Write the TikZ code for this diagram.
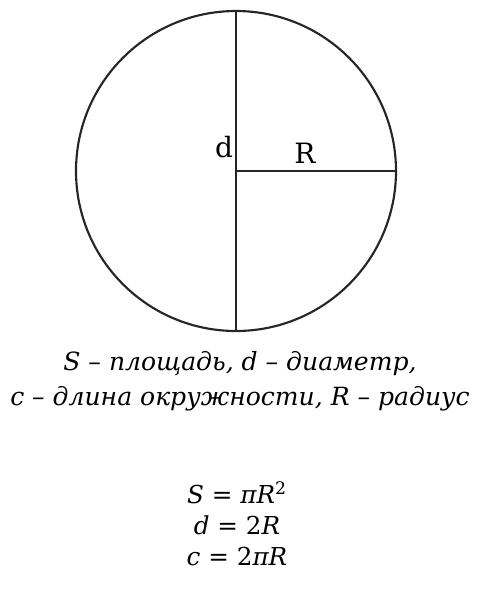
\documentclass[tikz,border=0pt]{standalone}
\usepackage{fontspec}
\setmainfont{DejaVu Serif}
\usetikzlibrary{positioning}

\begin{document}
\begin{tikzpicture}[
    x=0.75pt, y=-0.75pt,
    line width=1.6pt,
    ring/.style={
        draw=black!85,
        circle,
        inner sep=0pt,
        minimum size=240pt
    },
    seg/.style={draw=black!85, line width=1.4pt},
    lbl/.style={
        font=\fontsize{21}{21}\selectfont,
        inner sep=0pt
    },
    txt/.style={
        align=center,
        inner sep=0pt,
        anchor=base,
        font=\fontsize{18.8}{26.25}\selectfont\itshape
    }
]

\useasboundingbox (0,0) rectangle (480,594);

\node[ring] (circ) at (236,171) {};

\draw[seg] (circ.north) -- (circ.south);
\draw[seg] (circ.center) -- (circ.east);

\node[lbl, anchor=base east] (dlab) at (234,157) {d};
\node[lbl, anchor=base] (rlab) at (305,163) {R};

\node[txt] (legend) at (240,405)
{S – площадь, d – диаметр,\\
с – длина окружности, R – радиус};

\node[txt, font=\fontsize{18.5}{23.25}\selectfont] (formulas) at (237,565)
{\textit{S} = \textit{πR}\textsuperscript{2}\\
\textit{d} = 2\textit{R}\\
\textit{c} = 2\textit{πR}};

\end{tikzpicture}
\end{document}
